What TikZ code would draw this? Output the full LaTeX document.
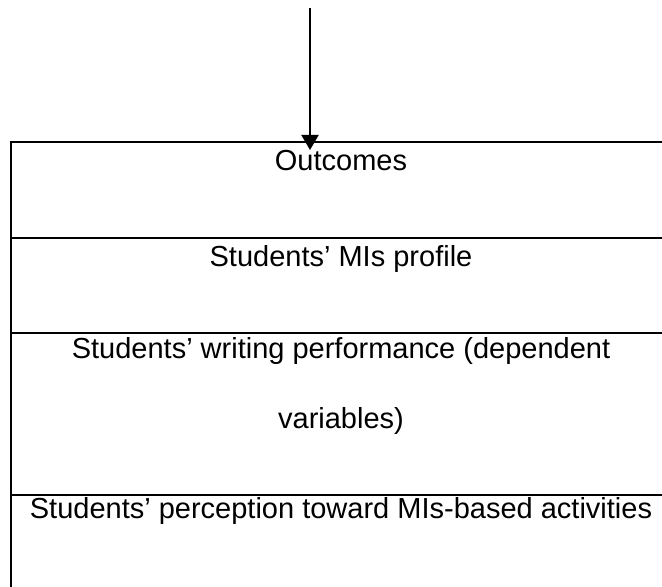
\documentclass[tikz,border=0pt]{standalone}
\usepackage{fontspec}
\setmainfont{Liberation Sans}
\usetikzlibrary{arrows.meta}
\begin{document}
\begin{tikzpicture}[x=0.5pt,y=-0.5pt,
        rowtext/.style={anchor=base,inner sep=0pt,font=\fontsize{14.5}{17}\selectfont},
        rule/.style={line width=1pt}]
            \useasboundingbox (0,0) rectangle (662,587);
            \coordinate (src) at (310,8);
            \coordinate (tip) at (310,150);
            \coordinate (l0) at (11,142);
            \coordinate (r0) at (664,142);
            \coordinate (l1) at (11,238);
            \coordinate (r1) at (664,238);
            \coordinate (l2) at (11,333);
            \coordinate (r2) at (664,333);
            \coordinate (l3) at (11,495);
            \coordinate (r3) at (664,495);
            \coordinate (lb) at (11,590);
            \node (outcomes) at (341,170.5) [rowtext] {Outcomes};
            \node (profile) at (341,266.5) [rowtext] {Students’ MIs profile};
            \node (writing) at (341,358) [rowtext] {Students’ writing performance (dependent};
            \node (variables) at (341,428) [rowtext] {variables)};
            \node (perception) at (341,518) [rowtext] {Students’ perception toward MIs-based activities};
            \draw[rule] (r0) -- (l0) -- (lb);
            \draw[rule] (l1) -- (r1);
            \draw[rule] (l2) -- (r2);
            \draw[rule] (l3) -- (r3);
            \draw[rule,-{Triangle[width=8.5pt,length=7.5pt]}] (src) -- (tip);
        \end{tikzpicture}
\end{document}
